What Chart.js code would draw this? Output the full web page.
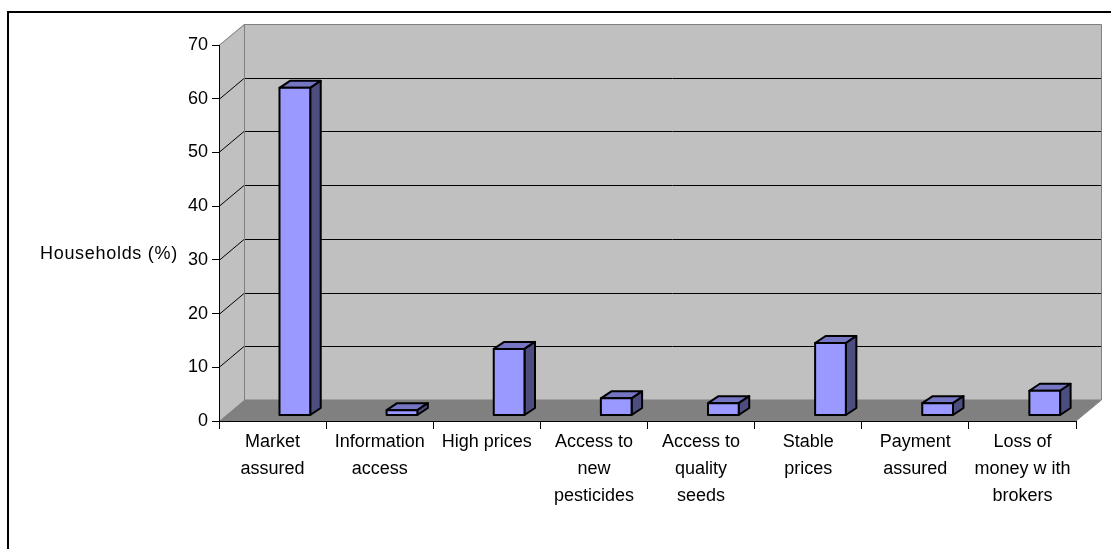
<!DOCTYPE html>
<html>
<head>
<meta charset="utf-8">
<script src="https://cdn.jsdelivr.net/npm/chart.js@4.4.1/dist/chart.umd.min.js"></script>
<style>
  html, body { margin: 0; padding: 0; background: #fff; }
  canvas { display: block; }
</style>
</head>
<body>
<canvas id="chart" width="1111" height="549"></canvas>
<script>
/* ── 데이터 ── */
const categories = [
	['Market', 'assured'],
	['Information', 'access'],
	'High prices',
	['Access to', 'new', 'pesticides'],
	['Access to', 'quality', 'seeds'],
	['Stable', 'prices'],
	['Payment', 'assured'],
	['Loss of', 'money w ith', 'brokers']
];
const households = [61.0, 1.0, 12.4, 3.2, 2.3, 13.5, 2.3, 4.6];
const yTicks = [0, 10, 20, 30, 40, 50, 60, 70];
const yTitle = 'Households (%)';

/* ── 3D 모양 ── */
const WALL_DX = 25, WALL_DY = -21;     // 뒷벽 깊이
const BAR_DX = 10.5, BAR_DY = -7;      // 막대 깊이
const BAR_SHIFT = 22.3, BAR_LIFT = -5.5;
const FONT = '"Liberation Sans", Arial, sans-serif';

const wall3d = {
	id: 'wall3d',
	beforeDraw(chart) {
		const ctx = chart.ctx;
		const a = chart.chartArea;
		const y = chart.scales.y;
		ctx.save();
		ctx.fillStyle = '#fff';
		ctx.fillRect(0, 0, chart.width, chart.height);

		// 바깥 테두리
		ctx.fillStyle = '#000';
		ctx.fillRect(7, 11, chart.width - 7, 2);
		ctx.fillRect(7, 11, 2, chart.height - 11);

		const L = a.left, R = a.right, T = a.top, B = a.bottom;
		// 뒷벽
		ctx.fillStyle = '#c0c0c0';
		ctx.fillRect(L + WALL_DX, T + WALL_DY, R - L, B - T);
		// 옆벽
		ctx.beginPath();
		ctx.moveTo(L, B); ctx.lineTo(L, T);
		ctx.lineTo(L + WALL_DX, T + WALL_DY); ctx.lineTo(L + WALL_DX, B + WALL_DY);
		ctx.closePath();
		ctx.fill();
		// 바닥
		ctx.fillStyle = '#808080';
		ctx.beginPath();
		ctx.moveTo(L, B); ctx.lineTo(R, B);
		ctx.lineTo(R + WALL_DX, B + WALL_DY); ctx.lineTo(L + WALL_DX, B + WALL_DY);
		ctx.closePath();
		ctx.fill();

		// 눈금선
		ctx.lineWidth = 1;
		ctx.strokeStyle = '#000';
		yTicks.forEach(function(v) {
			if (v === 0 || v === yTicks[yTicks.length - 1]) return;
			const py = Math.round(y.getPixelForValue(v)) + 0.5;
			ctx.beginPath();
			ctx.moveTo(L, py);
			ctx.lineTo(L + WALL_DX, py + WALL_DY);
			ctx.lineTo(R + WALL_DX, py + WALL_DY);
			ctx.stroke();
		});

		// 벽 테두리
		ctx.strokeStyle = '#808080';
		ctx.beginPath();
		ctx.moveTo(L, T + 0.5);
		ctx.lineTo(L + WALL_DX + 0.5, T + WALL_DY + 0.5);
		ctx.lineTo(R + WALL_DX + 0.5, T + WALL_DY + 0.5);
		ctx.lineTo(R + WALL_DX + 0.5, B + WALL_DY);
		ctx.lineTo(R, B);
		ctx.moveTo(L + WALL_DX + 0.5, T + WALL_DY);
		ctx.lineTo(L + WALL_DX + 0.5, B + WALL_DY);
		ctx.lineTo(R + WALL_DX, B + WALL_DY);
		ctx.stroke();
		ctx.restore();
	},
	afterDatasetsDraw(chart) {
		const ctx = chart.ctx;
		const meta = chart.getDatasetMeta(0);
		ctx.save();
		ctx.lineWidth = 2;
		ctx.lineJoin = 'round';
		ctx.strokeStyle = '#000';
		meta.data.forEach(function(bar) {
			const p = bar.getProps(['x', 'y', 'base', 'width'], true);
			const l = p.x - p.width / 2 + BAR_SHIFT;
			const r = l + p.width;
			const t = p.y + BAR_LIFT;
			const b = p.base + BAR_LIFT;
			// 윗면
			ctx.fillStyle = '#7575c4';
			ctx.beginPath();
			ctx.moveTo(l, t); ctx.lineTo(r, t);
			ctx.lineTo(r + BAR_DX, t + BAR_DY); ctx.lineTo(l + BAR_DX, t + BAR_DY);
			ctx.closePath(); ctx.fill(); ctx.stroke();
			// 옆면
			ctx.fillStyle = '#4d4d80';
			ctx.beginPath();
			ctx.moveTo(r, t); ctx.lineTo(r + BAR_DX, t + BAR_DY);
			ctx.lineTo(r + BAR_DX, b + BAR_DY); ctx.lineTo(r, b);
			ctx.closePath(); ctx.fill(); ctx.stroke();
			// 앞면
			ctx.fillStyle = '#9999ff';
			ctx.beginPath();
			ctx.rect(l, t, r - l, b - t);
			ctx.fill(); ctx.stroke();
		});
		ctx.restore();
	},
	afterDraw(chart) {
		const ctx = chart.ctx;
		ctx.save();
		ctx.fillStyle = '#000';
		ctx.font = '18px ' + FONT;
		ctx.letterSpacing = '0.7px';
		ctx.textBaseline = 'alphabetic';
		ctx.textAlign = 'left';
		ctx.fillText(yTitle, 40, 259);
		ctx.restore();
	}
};

new Chart(document.getElementById('chart'), {
	type: 'bar',
	data: {
		labels: categories,
		datasets: [{
			data: households,
			backgroundColor: 'rgba(0,0,0,0)',
			borderWidth: 0,
			categoryPercentage: 1,
			barPercentage: 0.287
		}]
	},
	options: {
		responsive: false,
		animation: false,
		devicePixelRatio: 1,
		layout: { padding: { top: 45, right: 35, left: 0, bottom: 0 } },
		plugins: { legend: { display: false }, tooltip: { enabled: false } },
		scales: {
			x: {
				afterFit: function(s) { s.height = 128; },
				grid: { offset: true, drawOnChartArea: false, tickLength: 8, color: '#000' },
				border: { color: '#000', width: 1 },
				ticks: {
					color: '#000', padding: 0, maxRotation: 0, autoSkip: false,
					font: { family: FONT, size: 18, lineHeight: 1.5 }
				}
			},
			y: {
				min: 0, max: 70,
				afterFit: function(s) { s.width = 219; },
				afterBuildTicks: function(s) { s.ticks = yTicks.map(v => ({ value: v })); },
				grid: { drawOnChartArea: false, tickLength: 7, color: '#000' },
				border: { color: '#000', width: 1 },
				ticks: { color: '#000', padding: 4, font: { family: FONT, size: 18 } }
			}
		}
	},
	plugins: [wall3d]
});
</script>
</body>
</html>
